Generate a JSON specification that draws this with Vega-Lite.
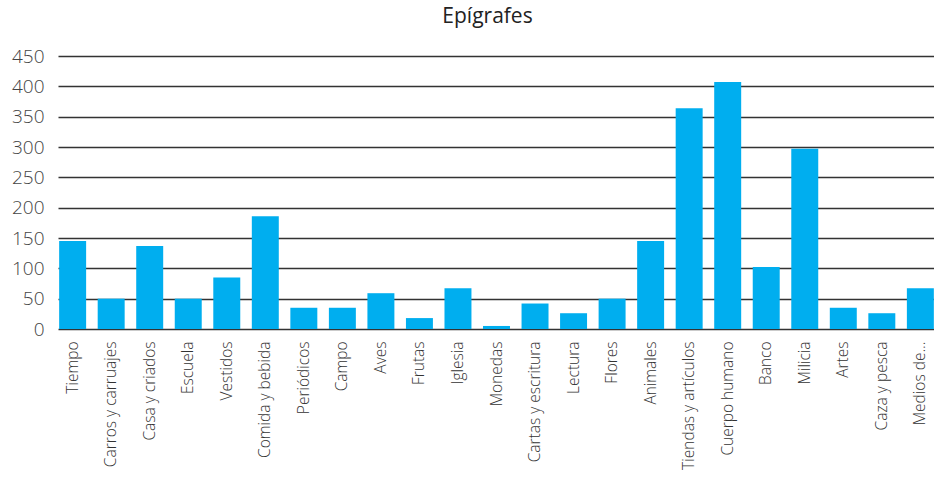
{
  "$schema": "https://vega.github.io/schema/vega-lite/v6.json",
  "width": 877,
  "height": 273,
  "padding": {"left": 11, "top": 6, "right": 0, "bottom": 0},
  "background": "white",
  "title": {"text": "Epígrafes", "fontSize": 21, "font": "Open Sans", "fontWeight": 500, "color": "#222222", "offset": 20, "dx": -9},
  "data": {"values": [
    {"cat": "Tiempo", "v": 145},
    {"cat": "Carros y carruajes", "v": 50},
    {"cat": "Casa y criados", "v": 137},
    {"cat": "Escuela", "v": 50},
    {"cat": "Vestidos", "v": 85},
    {"cat": "Comida y bebida", "v": 186},
    {"cat": "Periódicos", "v": 35},
    {"cat": "Campo", "v": 35},
    {"cat": "Aves", "v": 59},
    {"cat": "Frutas", "v": 18},
    {"cat": "Iglesia", "v": 67},
    {"cat": "Monedas", "v": 5},
    {"cat": "Cartas y escritura", "v": 42},
    {"cat": "Lectura", "v": 26},
    {"cat": "Flores", "v": 50},
    {"cat": "Animales", "v": 145},
    {"cat": "Tiendas y artículos", "v": 364},
    {"cat": "Cuerpo humano", "v": 407},
    {"cat": "Banco", "v": 102},
    {"cat": "Milicia", "v": 297},
    {"cat": "Artes", "v": 35},
    {"cat": "Caza y pesca", "v": 26},
    {"cat": "Medios de...", "v": 67}
  ]},
  "mark": {"type": "bar", "color": "#00AEEF"},
  "encoding": {
    "x": {"field": "cat", "type": "nominal", "sort": null,
      "scale": {"paddingInner": 0.3, "paddingOuter": 0.03},
      "axis": {"title": null, "labelAngle": -90, "labelFont": "Open Sans", "labelFontWeight": 300, "labelFontSize": 15.5, "labelColor": "#333333", "labelPadding": 12, "ticks": false, "domain": false, "labelLimit": 200}},
    "y": {"field": "v", "type": "quantitative",
      "scale": {"domain": [0, 450], "nice": false},
      "axis": {"title": null, "values": [0, 50, 100, 150, 200, 250, 300, 350, 400, 450], "labelFont": "Open Sans", "labelFontWeight": 300, "labelFontSize": 19, "labelColor": "#444444", "labelPadding": 14, "ticks": false, "domain": false, "gridColor": "#333333", "gridWidth": 1.3, "gridOpacity": 1}}
  },
  "config": {"view": {"stroke": null}}
}
